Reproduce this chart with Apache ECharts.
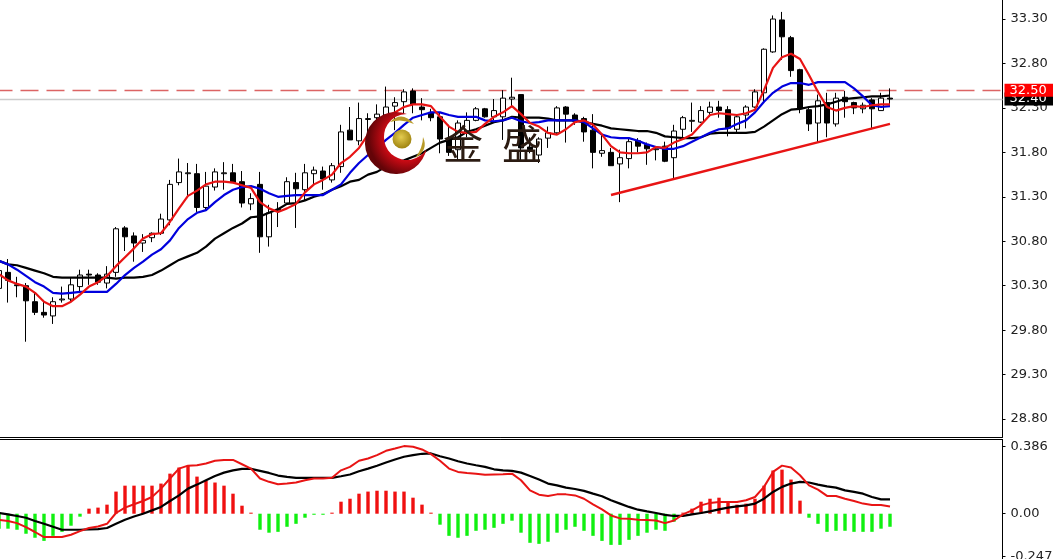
<!DOCTYPE html>
<html><head><meta charset="utf-8">
<style>html,body{margin:0;padding:0;background:#fff}#c{width:1053px;height:559px}</style>
<script src="https://cdn.jsdelivr.net/npm/echarts@6/dist/echarts.min.js"></script>
</head><body><div id="c"></div>
<script>
// [open, close, low, high]
const candles=[
[30.27,30.47,30.25,30.53],[30.45,30.36,30.11,30.60],[30.31,30.30,30.17,30.40],[30.30,30.13,29.67,30.33],[30.12,30.00,29.97,30.23],
[30.00,29.97,29.94,30.14],[29.96,30.12,29.87,30.17],[30.14,30.15,30.11,30.29],[30.15,30.31,30.11,30.39],[30.29,30.42,30.23,30.48],
[30.43,30.42,30.31,30.48],[30.42,30.34,30.31,30.44],[30.33,30.43,30.27,30.52],[30.45,30.94,30.40,30.96],[30.95,30.85,30.69,30.97],
[30.86,30.78,30.57,30.90],[30.78,30.81,30.68,30.88],[30.84,30.89,30.79,30.90],[30.89,31.05,30.87,31.11],[31.04,31.44,30.98,31.49],
[31.46,31.58,31.43,31.73],[31.56,31.57,31.31,31.68],[31.56,31.18,31.13,31.67],[31.18,31.42,31.15,31.58],[31.41,31.58,31.37,31.62],
[31.56,31.57,31.38,31.69],[31.57,31.46,31.46,31.67],[31.47,31.23,31.18,31.59],[31.22,31.28,31.15,31.34],[31.44,30.85,30.67,31.58],
[30.85,31.12,30.74,31.21],[31.15,31.16,30.96,31.24],[31.23,31.47,31.21,31.52],[31.46,31.39,30.95,31.57],[31.38,31.57,31.26,31.67],
[31.56,31.60,31.43,31.64],[31.59,31.50,31.38,31.64],[31.49,31.65,31.46,31.68],[31.64,32.03,31.57,32.11],[32.05,31.94,31.94,32.31],
[31.93,32.18,31.88,32.36],[32.17,32.18,31.94,32.24],[32.19,32.23,32.02,32.34],[32.22,32.31,32.16,32.54],[32.32,32.36,32.05,32.42],
[32.37,32.48,32.24,32.51],[32.49,32.34,32.24,32.52],[32.31,32.28,32.16,32.41],[32.25,32.19,32.15,32.29],[32.20,31.95,31.79,32.25],
[31.94,31.80,31.76,32.11],[31.83,32.13,31.71,32.16],[32.03,32.16,31.97,32.25],[32.16,32.29,32.15,32.31],[32.29,32.20,32.19,32.30],
[32.20,32.27,32.16,32.40],[32.20,32.41,31.94,32.50],[32.40,32.42,32.31,32.64],[32.45,31.85,31.71,32.45],[31.86,31.83,31.79,31.97],
[31.77,31.95,31.68,31.97],[31.96,32.02,31.85,32.09],[32.02,32.30,32.00,32.32],[32.31,32.23,31.91,32.32],[32.22,32.15,32.11,32.24],
[32.18,32.03,31.92,32.20],[32.05,31.80,31.62,32.23],[31.79,31.82,31.75,32.00],[31.80,31.65,31.65,31.85],[31.67,31.74,31.24,31.83],
[31.73,31.92,31.62,31.95],[31.93,31.87,31.80,31.96],[31.89,31.84,31.66,31.91],[31.83,31.84,31.71,31.86],[31.87,31.70,31.69,31.92],
[31.74,32.04,31.49,32.11],[32.06,32.19,31.96,32.21],[32.15,32.16,32.03,32.36],[32.14,32.27,32.13,32.32],[32.25,32.31,32.20,32.37],
[32.31,32.27,32.19,32.38],[32.28,32.07,31.98,32.32],[32.06,32.20,32.02,32.23],[32.22,32.31,32.07,32.33],[32.31,32.48,32.30,32.51],
[32.47,32.96,32.37,32.97],[32.93,33.30,32.92,33.34],[33.29,33.10,32.84,33.38],[33.09,32.72,32.65,33.11],[32.73,32.29,32.24,32.74],
[32.28,32.12,32.04,32.30],[32.13,32.38,31.91,32.45],[32.36,32.13,31.97,32.47],[32.12,32.41,32.09,32.47],[32.42,32.37,32.19,32.49],
[32.36,32.30,32.23,32.37],[32.29,32.33,32.24,32.36],[32.39,32.29,32.06,32.41],[32.27,32.41,32.27,32.47],[32.41,32.40,32.31,32.52]
];
const maRed=[30.43,30.36,30.32,30.29,30.22,30.12,30.07,30.07,30.12,30.20,30.29,30.34,30.41,30.52,30.62,30.72,30.83,30.88,30.89,31.02,31.17,31.31,31.37,31.44,31.47,31.47,31.46,31.43,31.40,31.24,31.17,31.13,31.17,31.22,31.35,31.44,31.49,31.55,31.68,31.75,31.85,32.00,32.11,32.20,32.25,32.31,32.34,32.34,32.32,32.20,32.09,32.03,32.02,32.03,32.12,32.20,32.25,32.32,32.23,32.13,32.09,32.02,32.00,32.06,32.14,32.16,32.11,32.00,31.87,31.80,31.79,31.79,31.80,31.86,31.85,31.91,31.95,32.00,32.11,32.22,32.24,32.23,32.22,32.24,32.28,32.50,32.75,32.87,32.91,32.85,32.67,32.48,32.31,32.27,32.30,32.32,32.31,32.33,32.34,32.34];
const maBlue=[30.58,30.54,30.48,30.41,30.34,30.29,30.22,30.21,30.22,30.23,30.23,30.23,30.23,30.32,30.42,30.50,30.57,30.65,30.71,30.81,30.95,31.05,31.12,31.15,31.24,31.32,31.38,31.41,31.42,31.39,31.34,31.30,31.31,31.32,31.32,31.32,31.32,31.38,31.44,31.57,31.68,31.77,31.85,31.94,32.02,32.11,32.19,32.22,32.25,32.25,32.22,32.20,32.20,32.20,32.16,32.15,32.16,32.19,32.15,32.13,32.14,32.16,32.16,32.16,32.16,32.14,32.07,32.00,31.97,31.96,31.96,31.93,31.89,31.86,31.84,31.84,31.87,31.92,31.97,32.02,32.06,32.07,32.12,32.16,32.25,32.37,32.47,32.54,32.58,32.58,32.56,32.59,32.59,32.59,32.59,32.52,32.43,32.33,32.31,32.32];
const maBlack=[30.58,30.54,30.53,30.50,30.47,30.44,30.40,30.39,30.39,30.39,30.39,30.39,30.39,30.38,30.39,30.39,30.40,30.42,30.47,30.53,30.59,30.63,30.67,30.74,30.83,30.89,30.95,31.00,31.07,31.08,31.12,31.16,31.22,31.23,31.26,31.30,31.33,31.38,31.42,31.47,31.49,31.55,31.58,31.64,31.68,31.71,31.75,31.79,31.85,31.91,31.94,31.97,32.03,32.06,32.10,32.14,32.16,32.20,32.19,32.19,32.19,32.18,32.16,32.16,32.16,32.14,32.12,32.10,32.07,32.06,32.05,32.04,32.04,32.02,31.98,31.97,31.96,31.96,31.97,32.01,32.02,32.02,32.02,32.02,32.03,32.09,32.16,32.23,32.28,32.29,32.31,32.32,32.34,32.37,32.40,32.41,32.42,32.43,32.43,32.44];
const macdHist=[-.086,-.086,-.092,-.115,-.138,-.156,-.127,-.104,-.069,-.017,.029,.035,.052,.127,.161,.161,.161,.161,.173,.230,.265,.276,.213,.190,.179,.161,.115,.046,.006,-.092,-.109,-.104,-.075,-.058,-.023,-.006,-.006,.006,.069,.086,.115,.127,.132,.132,.127,.127,.092,.052,.006,-.063,-.127,-.138,-.127,-.098,-.092,-.081,-.058,-.040,-.109,-.167,-.173,-.161,-.109,-.092,-.075,-.098,-.127,-.156,-.179,-.179,-.150,-.127,-.109,-.092,-.098,-.046,.006,.029,.069,.086,.092,.069,.052,.058,.086,.161,.248,.253,.196,.075,-.023,-.058,-.104,-.098,-.098,-.104,-.104,-.104,-.086,-.075];
const macdBlack=[.004,-.004,-.013,-.023,-.042,-.058,-.075,-.092,-.092,-.092,-.090,-.088,-.082,-.058,-.035,-.016,0,.019,.039,.073,.105,.144,.167,.192,.217,.236,.249,.257,.257,.246,.234,.219,.211,.206,.206,.206,.206,.206,.215,.225,.244,.259,.275,.294,.311,.327,.336,.344,.346,.330,.317,.301,.288,.278,.269,.255,.249,.246,.236,.217,.196,.173,.163,.150,.142,.131,.115,.100,.077,.058,.039,.023,.013,.004,-.007,-.013,-.012,-.004,.004,.013,.025,.035,.042,.048,.058,.086,.125,.154,.173,.183,.179,.167,.157,.150,.134,.125,.115,.096,.082,.082];
const macdRed=[-.035,-.042,-.054,-.077,-.105,-.134,-.134,-.134,-.121,-.100,-.082,-.073,-.058,.004,.035,.054,.073,.096,.144,.202,.259,.276,.278,.288,.304,.309,.309,.284,.259,.202,.183,.169,.173,.179,.192,.202,.202,.206,.249,.269,.304,.317,.336,.361,.374,.388,.384,.369,.342,.304,.259,.240,.234,.230,.223,.225,.226,.230,.192,.134,.109,.102,.111,.111,.105,.086,.054,.025,-.010,-.027,-.029,-.035,-.036,-.039,-.054,-.039,-.004,.019,.048,.062,.067,.067,.067,.077,.096,.154,.240,.276,.265,.221,.163,.138,.102,.102,.086,.073,.058,.050,.050,.042];
const priceTicks=[28.8,29.3,29.8,30.3,30.8,31.3,31.8,32.3,32.8,33.3];
const macdTicks=[-0.247,0,0.386];
const resistance=32.50, lastPrice=32.40;
const trendFrom=[68,31.32], trendTo=[99,32.12];

const slots=112;
const cats=Array.from({length:slots},(_,i)=>String(i));
const pad=a=>a.concat(Array(slots-a.length).fill(null));
const trend=Array(slots).fill(null);
trend[trendFrom[0]]=trendFrom[1]; trend[trendTo[0]]=trendTo[1];
const FONT='"DejaVu Sans"', INK='#222';
const lineSer=(d,c,w,xi,yi,z)=>({type:'line',data:pad(d),xAxisIndex:xi,yAxisIndex:yi,symbol:'none',showSymbol:false,z:z,
  lineStyle:{color:c,width:w},itemStyle:{color:c},silent:true});
const tag=(v,bg,z,txt)=>({type:'line',data:[],xAxisIndex:0,yAxisIndex:0,z:z,silent:true,
  markLine:{symbol:'none',silent:true,animation:false,z:z,data:[{yAxis:v}],lineStyle:{color:txt.line,width:1.4,type:txt.dash},
   label:{show:true,position:'end',distance:2,formatter:v.toFixed(2),backgroundColor:bg,color:'#fff',fontFamily:FONT,fontSize:13,
     lineHeight:13,padding:[0,10,0,5]}}});

echarts.graphic.registerShape('logoCrescent',echarts.graphic.extendPath('M406.9 114 A31 31 0 1 0 426.3 149.4 A23 23 0 1 1 406.9 114 Z',{}));
echarts.graphic.registerShape('logoSwooshTop',echarts.graphic.extendPath('M390 122 Q402 110 414 124 Q402 118 390 122 Z',{}));
echarts.graphic.registerShape('logoSwooshRight',echarts.graphic.extendPath('M423 137 Q429 150 415 158 Q423 148 423 137 Z',{}));

const chart=echarts.init(document.getElementById('c'),null,{renderer:'canvas'});
chart.setOption({
 animation:false,backgroundColor:'#fff',
 grid:[{left:-5.5,top:0,width:1008,height:437,outerBoundsMode:'none'},{left:-5.5,top:439.5,width:1008,height:119.5,outerBoundsMode:'none'}],
 xAxis:[
  {type:'category',gridIndex:0,data:cats,position:'bottom',axisLine:{show:true,lineStyle:{color:'#000',width:1}},axisTick:{show:false},axisLabel:{show:false},splitLine:{show:false}},
  {type:'category',gridIndex:1,data:cats,position:'top',axisLine:{show:true,onZero:false,lineStyle:{color:'#000',width:1}},axisTick:{show:false},axisLabel:{show:false},splitLine:{show:false}}
 ],
 yAxis:[
  {type:'value',gridIndex:0,position:'right',min:28.598,max:33.514,splitLine:{show:false},
   axisLine:{show:true,lineStyle:{color:'#000',width:1}},
   axisTick:{show:true,length:3,customValues:priceTicks,lineStyle:{color:'#000'}},
   axisLabel:{customValues:priceTicks,margin:8,color:INK,fontFamily:FONT,fontSize:13,formatter:v=>v.toFixed(2)}},
  {type:'value',gridIndex:1,position:'right',min:-0.26,max:0.426,splitLine:{show:false},
   axisLine:{show:true,onZero:false,lineStyle:{color:'#000',width:1}},
   axisTick:{show:true,length:3,customValues:macdTicks,lineStyle:{color:'#000'}},
   axisLabel:{customValues:macdTicks,margin:8,color:INK,fontFamily:FONT,fontSize:13,formatter:v=>v===0?'0.00':v.toFixed(3)}}
 ],
 series:[
  tag(lastPrice,'#000',1,{line:'#cccccc',dash:'solid'}),
  tag(resistance,'#ff0000',2,{line:'#dc6464',dash:[18,8]}),
  {type:'candlestick',data:pad(candles).map(d=>d===null?'-':d),xAxisIndex:0,yAxisIndex:0,barWidth:6,z:3,silent:true,
   itemStyle:{color:'#fff',color0:'#000',borderColor:'#000',borderColor0:'#000',borderColorDoji:'#000',borderWidth:1}},
  lineSer(maBlack,'#000',2.2,0,0,4),
  lineSer(maBlue,'#0000dd',2.2,0,0,5),
  lineSer(maRed,'#e81414',2.2,0,0,6),
  Object.assign(lineSer([],'#e81414',2.4,0,0,6),{data:trend,connectNulls:true}),
  {type:'bar',data:pad(macdHist).map(v=>v===null?null:({value:v,itemStyle:{color:v>=0?'#f01010':'#10f010'}})),xAxisIndex:1,yAxisIndex:1,barWidth:3.4,z:2,silent:true},
  lineSer(macdBlack,'#000',2.2,1,1,4),
  lineSer(macdRed,'#e81414',2,1,1,5)
 ],
 graphic:[
  {type:'logoCrescent',z:100,silent:true,
   style:{fill:new echarts.graphic.RadialGradient(0.68,0.42,0.62,[{offset:0,color:'#f4141e'},{offset:0.6,color:'#c80a14'},{offset:1,color:'#640408'}])}},
  {type:'circle',z:100,silent:true,shape:{cx:402,cy:139,r:9.5},
   style:{fill:new echarts.graphic.RadialGradient(0.45,0.4,0.6,[{offset:0,color:'#e4cc50'},{offset:1,color:'#a08410'}])}},
  {type:'logoSwooshTop',z:100,silent:true,style:{fill:'#b89a28'}},
  {type:'logoSwooshRight',z:100,silent:true,style:{fill:'#b89a28'}},
  {type:'text',z:101,silent:true,x:443,y:124,style:{text:'金',fill:'#2b1b12',font:'40px "Noto Sans CJK SC"'}},
  {type:'text',z:101,silent:true,x:502,y:124,style:{text:'盛',fill:'#2b1b12',font:'40px "Noto Sans CJK SC"'}}
 ]
});
</script></body></html>
